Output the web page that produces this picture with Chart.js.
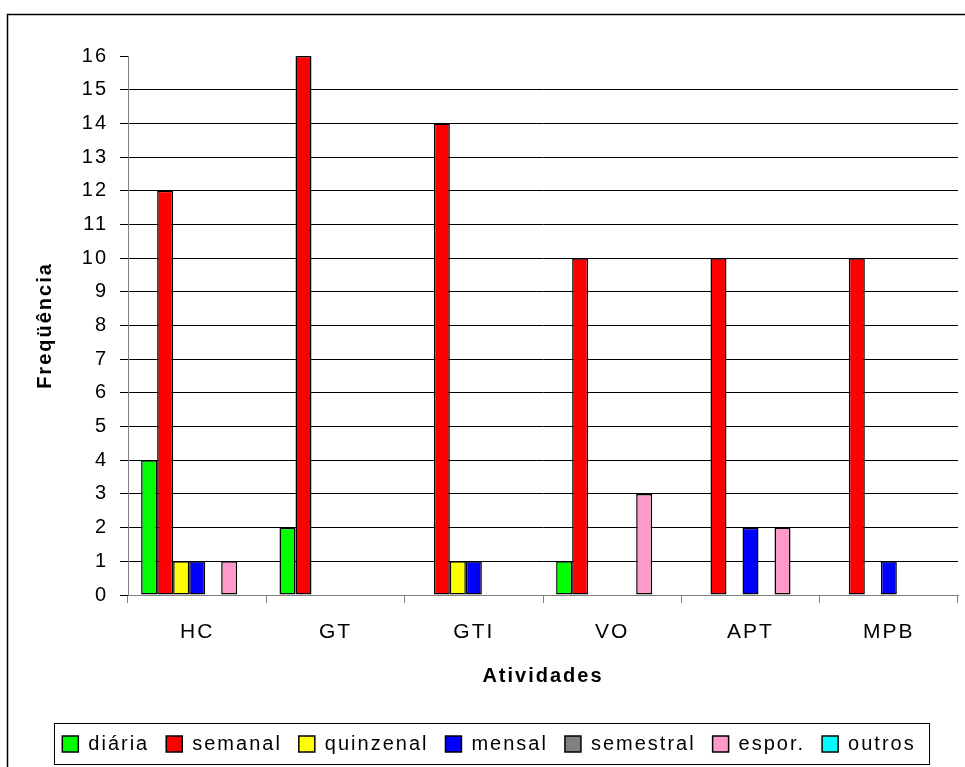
<!DOCTYPE html>
<html><head><meta charset="utf-8">
<script src="https://cdn.jsdelivr.net/npm/chart.js@4"></script>
<style>html,body{margin:0;padding:0;background:#fff}#wrap{width:965px;height:767px}</style>
</head><body><div id="wrap"><canvas id="c" width="965" height="767"></canvas></div>
<script>
const categories = ['HC', 'GT', 'GTI', 'VO', 'APT', 'MPB'];
const seriesNames = ['diária', 'semanal', 'quinzenal', 'mensal', 'semestral', 'espor.', 'outros'];
const diaria    = [4, 2, 0, 1, 0, 0];
const semanal   = [12, 16, 14, 10, 10, 10];
const quinzenal = [1, 0, 1, 0, 0, 0];
const mensal    = [1, 0, 1, 0, 2, 1];
const semestral = [0, 0, 0, 0, 0, 0];
const espor     = [1, 0, 0, 3, 2, 0];
const outros    = [0, 0, 0, 0, 0, 0];
const yMin = 0, yMax = 16, yStep = 1;
const xTitle = 'Atividades';
const yTitle = 'Freqüência';

const seriesValues = [diaria, semanal, quinzenal, mensal, semestral, espor, outros];
const colors = ['#00FF00', '#FF0000', '#FFFF00', '#0000FF', '#808080', '#FF99CC', '#00FFFF'];

Chart.defaults.font.family = '"Liberation Sans", Arial, sans-serif';
Chart.defaults.color = '#000';

const LS = '2px';
const spacingPlugin = {
  id: 'spacing',
  beforeUpdate(c) { c.ctx.letterSpacing = LS; },
  beforeLayout(c) { c.ctx.letterSpacing = LS; },
  beforeDraw(c) { c.ctx.letterSpacing = LS; }
};

const framePlugin = {
  id: 'frame',
  beforeDraw(c) {
    const ctx = c.ctx;
    ctx.save();
    ctx.fillStyle = '#fff';
    ctx.fillRect(0, 0, c.width, c.height);
    ctx.restore();
  },
  afterDraw(c) {
    const ctx = c.ctx;
    ctx.save();
    ctx.strokeStyle = '#000';
    ctx.lineWidth = 1.5;
    ctx.beginPath();
    ctx.moveTo(7.5, 800);
    ctx.lineTo(7.5, 14.5);
    ctx.lineTo(970, 14.5);
    ctx.stroke();
    const hb = c.legend.legendHitBoxes;
    if (hb && hb.length) {
      let l = Infinity, r = -Infinity, t = Infinity, b = -Infinity;
      hb.forEach(h => { l = Math.min(l, h.left); r = Math.max(r, h.left + h.width); t = Math.min(t, h.top); b = Math.max(b, h.top + h.height); });
      const cy = (t + b) / 2;
      ctx.strokeStyle = '#000';
      ctx.lineWidth = 1;
      ctx.strokeRect(Math.round(l - 8) + 0.5, Math.round(cy - 21) + 0.5, Math.round(r - l + 22), 41);
    }
    ctx.restore();
  }
};

const datasets = seriesNames.map((name, i) => ({
  label: name,
  data: seriesValues[i].map(v => v === 0 ? null : v),
  backgroundColor: colors[i],
  borderColor: '#000',
  borderWidth: 1.5,
  borderSkipped: false,
  categoryPercentage: 0.81,
  barPercentage: 1.0
}));

new Chart(document.getElementById('c'), {
  type: 'bar',
  data: { labels: categories, datasets },
  plugins: [spacingPlugin, framePlugin],
  options: {
    responsive: false,
    animation: false,
    devicePixelRatio: 1,
    layout: { padding: { left: 20, right: 7, top: 56, bottom: 3 } },
    plugins: {
      tooltip: { enabled: false },
      legend: {
        position: 'bottom',
        labels: {
          boxWidth: 16, boxHeight: 16,
          font: { size: 20 },
          color: '#000',
          padding: 17
        }
      }
    },
    scales: {
      x: {
        grid: { offset: true, drawOnChartArea: false, drawTicks: true, tickLength: 8, color: '#808080' },
        border: { color: '#808080', width: 1 },
        ticks: { font: { size: 21 }, color: '#000', padding: 17, maxRotation: 0 },
        title: { display: true, text: xTitle, font: { size: 20, weight: 'bold' }, padding: { top: 0, bottom: 29 } },
        afterFit(s) { s.height = 122; }
      },
      y: {
        min: yMin, max: yMax,
        ticks: { stepSize: yStep, font: { size: 20 }, color: '#000', padding: 12 },
        grid: {
          color: ctx => ctx.tick && ctx.tick.value === yMax ? 'rgba(0,0,0,0)' : (ctx.tick && ctx.tick.value === 0 ? '#808080' : '#000'),
          tickColor: '#000', tickLength: 8, lineWidth: 1
        },
        border: { color: '#808080', width: 1 },
        title: { display: true, text: yTitle, font: { size: 20, weight: 'bold' }, padding: { top: 13, bottom: 0 } },
        afterFit(s) { s.width = 108; }
      }
    }
  }
});
</script>
</body></html>
